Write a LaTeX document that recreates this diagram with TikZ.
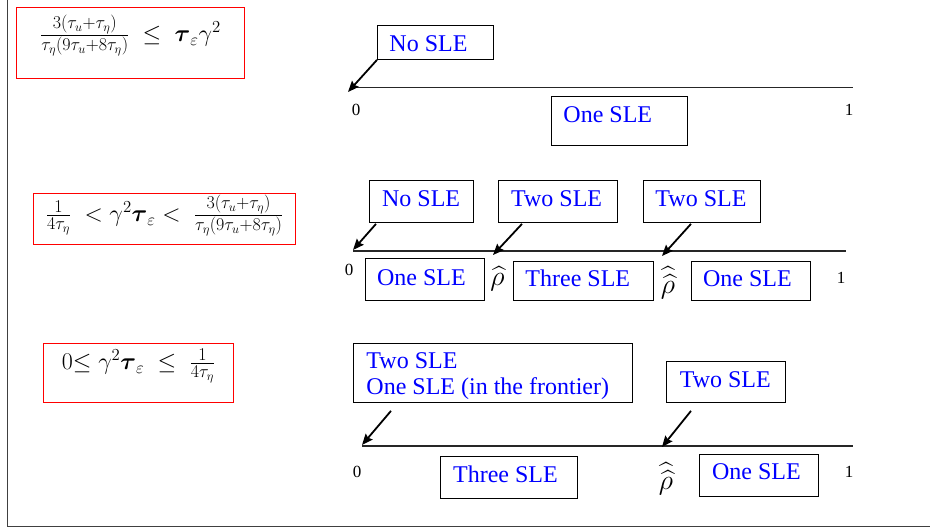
\RequirePackage{fix-cm}
\documentclass[tikz,border=0pt]{standalone}
\usepackage{amsmath}
\usepackage{exscale}
\usepackage{fontspec}
\setmainfont{Liberation Serif}
\usetikzlibrary{arrows.meta,calc}

% fixed-width, left-aligned label text inside a box
\newcommand\slefill[2]{\makebox[#1][l]{#2}}
% numerator / denominator of the condition fractions, set at a fixed size
\newcommand\fracpart[1]{\mbox{\fontsize{18}{18}\selectfont$#1$}}

\begin{document}
\begin{tikzpicture}[x=1pt,y=-1pt,
  frame/.style={draw=black!75, line width=1.5pt},
  condbox/.style={draw=red, line width=1pt, inner xsep=0pt, inner ysep=0pt,
    anchor=north west, font=\fontsize{24}{28}\selectfont},
  slebox/.style={draw=black, line width=0.9pt, inner ysep=0pt, anchor=north west,
    text=blue, font=\fontsize{24}{26}\selectfont},
  axisline/.style={draw=black!85, line width=1.2pt},
  pointer/.style={line width=1.8pt, -{Stealth[length=11pt,width=9pt,inset=1.5pt]}},
  ticklbl/.style={inner sep=0pt, font=\fontsize{17}{17}\selectfont},
  rholbl/.style={inner sep=0pt, font=\fontsize{28}{28}\selectfont},
]
\useasboundingbox (0,0) rectangle (930,529);

% outer frame (left and bottom edges)
\coordinate (ftop) at (7.5,0);
\coordinate (fcorner) at (7.5,526.5);
\coordinate (fright) at (930,526.5);
\draw[frame] (ftop) -- (fcorner) -- (fright);

% ---------------- condition boxes ----------------
\node[condbox, minimum width=228pt, text height=34pt, text depth=37pt] (condA) at (16,7)
  {$\frac{\fracpart{3(\tau_u{+}\tau_\eta)}}{\fracpart{\tau_\eta(9\tau_u{+}8\tau_\eta)}}\;\le\;\boldsymbol{\tau}_{\varepsilon}\gamma^{2}$};
\node[condbox, minimum width=262pt, text height=28pt, text depth=23pt] (condB) at (33,193)
  {$\frac{\fracpart{1}}{\fracpart{4\tau_\eta}}\;<\gamma^{2}\boldsymbol{\tau}_{\varepsilon}<\;\frac{\fracpart{3(\tau_u{+}\tau_\eta)}}{\fracpart{\tau_\eta(9\tau_u{+}8\tau_\eta)}}$};
\node[condbox, minimum width=190pt, text height=26pt, text depth=33pt] (condC) at (43,343)
  {$0{\le}\;\gamma^{2}\boldsymbol{\tau}_{\varepsilon}\;\le\;\frac{\fracpart{1}}{\fracpart{4\tau_\eta}}$};

% ---------------- first line ----------------
\coordinate (a0) at (353,87.5);
\coordinate (a1) at (853,87.5);
\draw[axisline] (a0) -- (a1);
\node[ticklbl] (zeroA) at (356,110) {0};
\node[ticklbl] (oneA1) at (849,110) {1};

\node[slebox, inner xsep=12pt, text height=25.7pt, text depth=8.3pt] (nosleA) at (377,25)
  {\slefill{92pt}{No SLE}};
\node[slebox, inner xsep=12pt, text height=25.7pt, text depth=23.3pt] (oneA) at (551,96)
  {\slefill{112pt}{One SLE}};

\coordinate (tipA) at (348,92);
\draw[pointer] (nosleA.south west) -- (tipA);

% ---------------- second line ----------------
\coordinate (b0) at (353,251);
\coordinate (b1) at (846,251);
\draw[axisline] (b0) -- (b1);
\node[ticklbl] (zeroB) at (349,270) {0};
\node[ticklbl] (oneB) at (841,278) {1};

\node[slebox, inner xsep=12.7pt, text height=26pt, text depth=16pt] (nosleB) at (369,180)
  {\slefill{78.6pt}{No SLE}};
\node[slebox, inner xsep=12.7pt, text height=26pt, text depth=16pt] (twoB1) at (498,180)
  {\slefill{93.6pt}{Two SLE}};
\node[slebox, inner xsep=12pt, text height=26pt, text depth=16pt] (twoB2) at (643,180)
  {\slefill{93pt}{Two SLE}};

\node[slebox, inner xsep=11.7pt, text height=27pt, text depth=15pt] (oneB1) at (365,258)
  {\slefill{95.6pt}{One SLE}};
\node[slebox, inner xsep=12pt, text height=25pt, text depth=14pt] (threeB) at (513,261)
  {\slefill{116pt}{Three SLE}};
\node[slebox, inner xsep=11.7pt, text height=25pt, text depth=14pt] (oneB2) at (691,261)
  {\slefill{95.6pt}{One SLE}};

\node[rholbl] (rhoB) at (497.5,279) {$\widehat{\rho}$};
\node[rholbl] (rhorhoB) at (668,283) {$\widehat{\widehat{\rho}}$};

\coordinate (tipB0) at (353,250);
\coordinate (tipB1) at (493,255);
\coordinate (tipB2) at (662,256);
\draw[pointer] ($(nosleB.south west)+(7,1)$) -- (tipB0);
\draw[pointer] ($(twoB1.south west)+(24,1)$) -- (tipB1);
\draw[pointer] ($(twoB2.south west)+(48,1)$) -- (tipB2);

% ---------------- third line ----------------
\coordinate (c0) at (362,446);
\coordinate (c1) at (853,446);
\draw[axisline] (c0) -- (c1);
\node[ticklbl] (zeroC) at (357,472) {0};
\node[ticklbl] (oneC1) at (849,472) {1};

\node[slebox, inner xsep=13pt, text height=25.3pt, text depth=33.7pt] (twoC1) at (353,343)
  {\slefill{253pt}{\begin{tabular}[t]{@{}l@{}}Two SLE\\One SLE (in the frontier)\end{tabular}}};
\node[slebox, inner xsep=13.3pt, text height=25.7pt, text depth=15.3pt] (twoC2) at (666,361)
  {\slefill{92.4pt}{Two SLE}};
\node[slebox, inner xsep=12.7pt, text height=25.7pt, text depth=16.3pt] (threeC) at (440,456)
  {\slefill{111.6pt}{Three SLE}};
\node[slebox, inner xsep=12.7pt, text height=25pt, text depth=17pt] (oneC) at (699,454)
  {\slefill{93.6pt}{One SLE}};

\node[rholbl] (rhorhoC) at (666,479) {$\widehat{\widehat{\rho}}$};

\coordinate (tipC0) at (362,445);
\coordinate (tipC1) at (662,447);
\draw[pointer] ($(twoC1.south west)+(38,8)$) -- (tipC0);
\draw[pointer] ($(twoC2.south west)+(25,8)$) -- (tipC1);
\end{tikzpicture}
\end{document}
